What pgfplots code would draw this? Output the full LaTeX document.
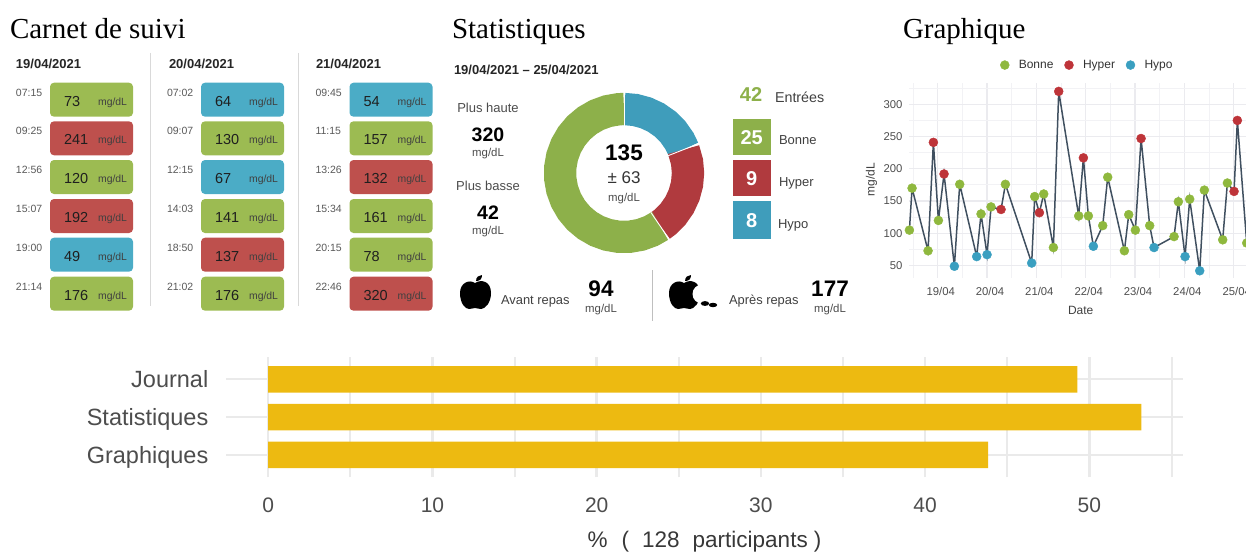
\documentclass[border=0pt]{standalone}
\usepackage{pgfplots}
\pgfplotsset{compat=1.18}
\usepackage{fontspec}
\setmainfont{Liberation Sans}
\newfontfamily\serifttl{Liberation Serif}
\newcommand\fs[1]{\fontsize{#1pt}{#1pt}\selectfont}
\definecolor{tg}{RGB}{156,187,82}
\definecolor{tr}{RGB}{190,80,77}
\definecolor{tb}{RGB}{75,172,198}
\definecolor{dg}{RGB}{141,176,74}
\definecolor{dr}{RGB}{176,58,62}
\definecolor{db}{RGB}{63,157,187}
\definecolor{pg}{RGB}{143,184,62}
\definecolor{pr}{RGB}{190,52,57}
\definecolor{pb}{RGB}{58,159,192}
\definecolor{ln}{RGB}{64,80,96}
\definecolor{gmaj}{RGB}{235,235,239}
\definecolor{gmin}{RGB}{242,242,245}
\definecolor{bgrid}{RGB}{234,234,234}
\definecolor{barc}{RGB}{237,186,17}
\definecolor{tx}{RGB}{77,77,77}
\begin{document}
\begin{tikzpicture}
\path[use as bounding box] (0pt,0pt) rectangle (1246pt,-551pt);
\begin{scope}[x=1pt,y=-1pt,
  L/.style={inner sep=0pt,outer sep=0pt,anchor=base west},
  C/.style={inner sep=0pt,outer sep=0pt,anchor=base},
  R/.style={inner sep=0pt,outer sep=0pt,anchor=base east}]
% titles
\node[L] at (10,38.2) {\serifttl\fs{29}Carnet de suivi};
\node[L] at (452,38.2) {\serifttl\fs{29}Statistiques};
\node[L] at (903,38.2) {\serifttl\fs{29}Graphique};
% logbook
\draw[black!15,line width=1pt] (150.5,53)--(150.5,306);
\draw[black!15,line width=1pt] (298.5,53)--(298.5,306);
\node[L,text=black!85] at (16,68.3) {\bfseries\fs{13}19/04/2021};
\node[L,text=black!85] at (169,68.3) {\bfseries\fs{13}20/04/2021};
\node[L,text=black!85] at (316,68.3) {\bfseries\fs{13}21/04/2021};
\foreach \x/\y/\c/\v/\t in {
 50/82.7/tg/73/07:15, 50/121.3/tr/241/09:25, 50/160/tg/120/12:56, 50/199/tr/192/15:07, 50/237.7/tb/49/19:00, 50/276.7/tg/176/21:14,
 201/82.7/tb/64/07:02, 201/121.3/tg/130/09:07, 201/160/tb/67/12:15, 201/199/tg/141/14:03, 201/237.7/tr/137/18:50, 201/276.7/tg/176/21:02,
 349.5/82.7/tb/54/09:45, 349.5/121.3/tg/157/11:15, 349.5/160/tr/132/13:26, 349.5/199/tg/161/15:34, 349.5/237.7/tg/78/20:15, 349.5/276.7/tr/320/22:46}{
  \fill[\c,rounded corners=4pt] (\x,\y) rectangle +(83,34);
  \node[L,text=black!65] at ({\x-34},{\y+13.5}) {\fs{10.5}\t};
  \node[L,text=black!88] at ({\x+14},{\y+23.5}) {\fs{14.5}\v};
  \node[R,text=black!75] at ({\x+77},{\y+22.3}) {\fs{10.4}mg/dL};
}
% statistics panel
\node[L,text=black!85] at (454,74.7) {\bfseries\fs{13}19/04/2021 -- 25/04/2021};
\node[C,text=black!70] at (488,112.7) {\fs{13}Plus haute};
\node[C] at (488,141.7) {\bfseries\fs{19.5}320};
\node[C,text=black!70] at (488,156.7) {\fs{11.4}mg/dL};
\node[C,text=black!70] at (488,190) {\fs{13}Plus basse};
\node[C] at (488,219) {\bfseries\fs{19.5}42};
\node[C,text=black!70] at (488,234.5) {\fs{11.4}mg/dL};
\node[C] at (624,160.7) {\bfseries\fs{22.5}135};
\node[C,text=black!80] at (624,183.3) {\fs{17}± 63};
\node[C,text=black!70] at (624,201.3) {\fs{11.4}mg/dL};
\node[C,text=dg] at (751,101.7) {\bfseries\fs{20}42};
\node[L,text=black!75] at (775,102.3) {\fs{14.3}Entrées};
\fill[dg] (732.5,119) rectangle (771,155);
\fill[dr] (732.5,160) rectangle (771,196);
\fill[db] (732.5,201) rectangle (771,239);
\node[C,text=white] at (751.7,144) {\bfseries\fs{20}25};
\node[C,text=white] at (751.7,185.7) {\bfseries\fs{20}9};
\node[C,text=white] at (751.7,227.7) {\bfseries\fs{20}8};
\node[L,text=black!75] at (779,144) {\fs{13}Bonne};
\node[L,text=black!75] at (779,186.7) {\fs{13}Hyper};
\node[L,text=black!75] at (778,228.7) {\fs{13}Hypo};
% apples
\fill[black] (475,283) .. controls (481,279) and (491,281) .. (491,293)
 .. controls (491,303) and (485,309) .. (481,309) .. controls (478,309) and (477,308) .. (475,308)
 .. controls (473,308) and (472,309) .. (469,309) .. controls (465,309) and (460,303) .. (460,293)
 .. controls (460,283) and (469,279) .. (475,283) -- cycle;
\fill[black] (476,281) .. controls (476,277) and (479,275) .. (482,275) .. controls (482,279) and (480,281) .. (476,281) -- cycle;
\begin{scope}[xshift=209pt]
\fill[black] (475,283) .. controls (481,279) and (491,281) .. (491,293)
 .. controls (491,303) and (485,309) .. (481,309) .. controls (478,309) and (477,308) .. (475,308)
 .. controls (473,308) and (472,309) .. (469,309) .. controls (465,309) and (460,303) .. (460,293)
 .. controls (460,283) and (469,279) .. (475,283) -- cycle;
\fill[black] (476,281) .. controls (476,277) and (479,275) .. (482,275) .. controls (482,279) and (480,281) .. (476,281) -- cycle;
\fill[white] (493,294) circle (9.5);
\end{scope}
\fill[black] (705,303.5) ellipse (4.2 and 2.4);
\fill[black] (713,305) ellipse (4.2 and 2.2);
\node[L,text=black!75] at (501,304) {\fs{12.9}Avant repas};
\node[C] at (601,296) {\bfseries\fs{22.5}94};
\node[C,text=black!70] at (601,312.3) {\fs{11.4}mg/dL};
\draw[black!25,line width=1.5pt] (652.5,270)--(652.5,321);
\node[L,text=black!75] at (729,304) {\fs{12.9}Après repas};
\node[C] at (830,296) {\bfseries\fs{22.5}177};
\node[C,text=black!70] at (830,312.3) {\fs{11.4}mg/dL};
\end{scope}

% donut
\begin{axis}[at={(524pt,-73pt)},anchor=north west,scale only axis,width=200pt,height=200pt,
  xmin=-100,xmax=100,ymin=-100,ymax=100,hide axis,clip=false]
\addplot[data cs=polar,db,line width=32.3pt,no marks] coordinates {(90,64)(80,64)(70,64)(60,64)(50,64)(40,64)(30,64)(21.43,64)};
\addplot[data cs=polar,dr,line width=32.3pt,no marks] coordinates {(21.43,64)(10,64)(0,64)(-10,64)(-20,64)(-30,64)(-40,64)(-50,64)(-55.71,64)};
\addplot[data cs=polar,dg,line width=32.3pt,no marks] coordinates {(-55.71,64)(-65,64)(-75,64)(-85,64)(-95,64)(-105,64)(-115,64)(-125,64)(-135,64)(-145,64)(-155,64)(-165,64)(-175,64)(-185,64)(-195,64)(-205,64)(-215,64)(-225,64)(-235,64)(-245,64)(-255,64)(-265,64)(-270,64)};
\addplot[data cs=polar,white,line width=0.9pt,no marks] coordinates {(21.43,47.5)(21.43,80.6)};
\addplot[data cs=polar,white,line width=0.9pt,no marks] coordinates {(-55.71,47.5)(-55.71,80.6)};
\addplot[data cs=polar,white,line width=0.9pt,no marks] coordinates {(90,47.5)(90,80.6)};
\end{axis}

% line chart
\begin{axis}[at={(909pt,-83pt)},anchor=north west,scale only axis,width=339pt,height=195pt,
  xmin=-0.582,xmax=6.29,ymin=30.8,ymax=333,
  axis line style={draw=none},major tick length=0pt,minor tick length=0pt,
  xtick={0,1,2,3,4,5,6},xticklabels={19/04,20/04,21/04,22/04,23/04,24/04,25/04},
  minor xtick={-0.5,0.5,1.5,2.5,3.5,4.5,5.5},
  ytick={50,100,150,200,250,300},minor ytick={75,125,175,225,275,325},
  grid=both,major grid style={gmaj,line width=1.2pt},minor grid style={gmin,line width=1pt},
  tick label style={font=\fs{11.3},text=tx},
  xticklabel style={inner sep=0pt,anchor=base,yshift=-17.2pt,xshift=3pt},
  yticklabel style={inner sep=0pt,anchor=east,xshift=-6.3pt},
  /pgf/number format/assume math mode=true,
  xlabel={Date},ylabel={mg/dL},
  label style={font=\fs{12},text=black!75,inner sep=0pt},
  xlabel style={at={(axis description cs:0.5065,-0.188)},anchor=base},
  ylabel style={at={(axis description cs:-0.1015,0.505)},anchor=base},
  legend columns=3,
  legend style={at={(axis description cs:0.2687,1.092)},anchor=west,draw=none,fill=none,inner sep=0pt,font=\fs{12},text=black!80,
    /tikz/every even column/.append style={column sep=9pt},
    /tikz/every odd column/.append style={column sep=7.5pt}},
  legend cell align=left,
  legend image code/.code={\draw[#1] plot coordinates {(0pt,0pt)};},
  ]
\addplot[forget plot,ln,line width=1.5pt,no marks] coordinates {
(-0.574,105)(-0.52,170)(-0.196,73)(-0.088,241)(0.014,120)(0.128,192)(0.338,49)(0.446,176)
(0.79,64)(0.878,130)(1.0,67)(1.081,141)(1.284,137)(1.372,176)
(1.905,54)(1.966,157)(2.061,132)(2.149,161)(2.345,78)(2.453,320)
(2.858,127)(2.953,217)(3.054,127)(3.155,80)(3.345,112)(3.446,187)
(3.784,73)(3.872,129)(4.007,105)(4.122,247)(4.297,112)(4.385,78)
(4.791,95)(4.878,149)(5.014,64)(5.108,153)(5.311,42)(5.405,167)
(5.777,90)(5.872,178)(6.007,165)(6.074,275)(6.264,85)};
\addplot[only marks,mark=*,mark size=4.5pt,pg,mark options={draw=pg,fill=pg}] coordinates {
(-0.574,105)(-0.52,170)(-0.196,73)(0.014,120)(0.446,176)(0.878,130)(1.081,141)(1.372,176)(1.966,157)(2.149,161)(2.345,78)
(2.858,127)(3.054,127)(3.345,112)(3.446,187)(3.784,73)(3.872,129)(4.007,105)(4.297,112)(4.791,95)(4.878,149)(5.108,153)(5.405,167)(5.777,90)(5.872,178)(6.264,85)};
\addplot[only marks,mark=*,mark size=4.5pt,pr,mark options={draw=pr,fill=pr}] coordinates {
(-0.088,241)(0.128,192)(1.284,137)(2.061,132)(2.453,320)(2.953,217)(4.122,247)(6.007,165)(6.074,275)};
\addplot[only marks,mark=*,mark size=4.5pt,pb,mark options={draw=pb,fill=pb}] coordinates {
(0.338,49)(0.79,64)(1.0,67)(1.905,54)(3.155,80)(4.385,78)(5.014,64)(5.311,42)};
\legend{Bonne,Hyper,Hypo}
\end{axis}

% bar chart
\begin{axis}[at={(226pt,-357.3pt)},anchor=north west,scale only axis,width=957pt,height=120pt,
  xmin=-2.57,xmax=55.7,ymin=0.41,ymax=3.58,
  axis line style={draw=none},major tick length=0pt,minor tick length=0pt,
  xtick={0,10,20,30,40,50},minor xtick={5,15,25,35,45,55},
  ytick={1,2,3},yticklabels={Graphiques,Statistiques,Journal},
  xmajorgrids,xminorgrids,ymajorgrids,
  major grid style={bgrid,line width=2.4pt},minor grid style={bgrid,line width=2pt},
  tick label style={text=tx},
  xticklabel style={font=\fs{21},inner sep=0pt,anchor=base,yshift=-35.4pt},
  yticklabel style={font=\fs{23.5},inner sep=0pt,anchor=base east,xshift=-17.5pt,yshift=-8.6pt},
  /pgf/number format/assume math mode=true,
  xlabel={\%\hspace{14pt}(\hspace{13pt}128\hspace{13pt}participants\hspace{6pt})},
  xlabel style={font=\fs{22.5},text=black!78,inner sep=0pt,at={(axis description cs:0.5,-0.585)},anchor=base},
  ]
\addplot[xbar,bar width=26.5pt,bar shift=0pt,fill=barc,draw=none] coordinates {(43.83,1)(53.16,2)(49.27,3)};
\end{axis}
\end{tikzpicture}
\end{document}
